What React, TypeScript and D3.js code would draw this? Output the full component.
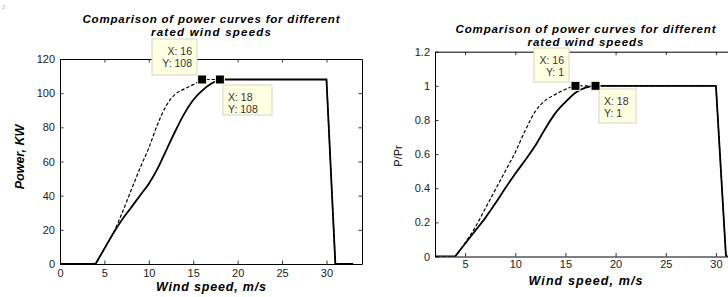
import { useEffect, useRef } from 'react';
import * as d3 from 'd3';

// wind speed grid, m/s
const windSpeeds = [0, 1, 2, 3, 4, 5, 6, 7, 8, 9, 10, 11, 12, 13, 14, 15, 16, 17, 18, 19, 20, 21, 22, 23, 24, 25, 26, 27, 28, 29, 30, 31, 32, 33];

// power, kW
const powerRated18 = [0, 0, 0, 0, 0, 9, 18, 26, 33, 40, 47, 56, 67, 78, 88, 96, 101.5, 105.5, 108, 108, 108, 108, 108, 108, 108, 108, 108, 108, 108, 108, 108, 0, 0, 0];
const powerRated16 = [0, 0, 0, 0, 0, 9, 18, 30, 43, 56, 68, 82, 93, 99.5, 102.5, 105, 108, 108, 108, 108, 108, 108, 108, 108, 108, 108, 108, 108, 108, 108, 108, 0, 0, 0];

// P/Pr
const ratioRated18 = [0, 0, 0, 0, 0, 0.075, 0.15, 0.225, 0.31, 0.4, 0.485, 0.565, 0.65, 0.75, 0.84, 0.905, 0.96, 0.99, 1, 1, 1, 1, 1, 1, 1, 1, 1, 1, 1, 1, 1, 0, 0, 0];
const ratioRated16 = [0, 0, 0, 0, 0, 0.08, 0.17, 0.28, 0.39, 0.5, 0.61, 0.74, 0.85, 0.915, 0.95, 0.98, 1, 1, 1, 1, 1, 1, 1, 1, 1, 1, 1, 1, 1, 1, 1, 0, 0, 0];

const powerTicks = [0, 20, 40, 60, 80, 100, 120];
const ratioTicks = [0, 0.2, 0.4, 0.6, 0.8, 1, 1.2];
const leftSpeedTicks = [0, 5, 10, 15, 20, 25, 30];
const rightSpeedTicks = [5, 10, 15, 20, 25, 30];

const cutInSpeed = 4;
const tipSpeeds = [16, 18];
const powerTipValues = [108, 108];
const ratioTipValues = [1, 1];

const titleLines = ['Comparison of power curves for different', 'rated wind speeds'];

const WIDTH = 728;
const HEIGHT = 297;
const FONT = '"Liberation Sans", Arial, Helvetica, sans-serif';

type TipBox = { x: number; y: number; w: number; h: number; anchor: 'start' | 'end' };

type Panel = {
  box: { left: number; right: number; top: number; bottom: number };
  xDomain: [number, number];
  yDomain: [number, number];
  xTicks: number[];
  yTicks: number[];
  solid: number[];
  dashed: number[];
  tipValues: number[];
  tips: TipBox[];
  titleY: [number, number];
  titleLength: [number, number];
  xTickPad: number;
  xLabelY: number;
  xLabelLength: number;
  yLabel: string;
  yLabelX: number;
  yLabelY: number;
  yLabelBold: boolean;
};

const panels: Panel[] = [
  {
    box: { left: 60, right: 362, top: 59, bottom: 264 },
    xDomain: [0, 34],
    yDomain: [0, 120],
    xTicks: leftSpeedTicks,
    yTicks: powerTicks,
    solid: powerRated18,
    dashed: powerRated16,
    tipValues: powerTipValues,
    tips: [
      { x: 152, y: 39, w: 45, h: 36, anchor: 'end' },
      { x: 223, y: 85, w: 49, h: 30, anchor: 'start' },
    ],
    titleY: [23, 36],
    titleLength: [257, 120],
    xTickPad: 5.5,
    xLabelY: 291,
    xLabelLength: 110,
    yLabel: 'Power, KW',
    yLabelX: 23.5,
    yLabelY: 157,
    yLabelBold: true,
  },
  {
    box: { left: 435, right: 736, top: 51.7, bottom: 256.5 },
    xDomain: [2, 32],
    yDomain: [0, 1.2],
    xTicks: rightSpeedTicks,
    yTicks: ratioTicks,
    solid: ratioRated18,
    dashed: ratioRated16,
    tipValues: ratioTipValues,
    tips: [
      { x: 534, y: 48, w: 35, h: 34, anchor: 'end' },
      { x: 599, y: 89, w: 37, h: 34, anchor: 'start' },
    ],
    titleY: [33, 46],
    titleLength: [260, 116],
    xTickPad: 3.8,
    xLabelY: 284.5,
    xLabelLength: 114,
    yLabel: 'P/Pr',
    yLabelX: 402,
    yLabelY: 156,
    yLabelBold: false,
  },
];

const drawPanel = (svg: d3.Selection<SVGSVGElement, unknown, null, undefined>, p: Panel, idx: number) => {
  const { box } = p;
  const x = d3.scaleLinear().domain(p.xDomain).range([box.left, box.right]);
  const y = d3.scaleLinear().domain(p.yDomain).range([box.bottom, box.top]);
  const tick = 3.5;
  const g = svg.append('g');

  const clipId = `plot-clip-${idx}`;
  g.append('clipPath')
    .attr('id', clipId)
    .append('rect')
    .attr('x', box.left)
    .attr('y', box.top - 6)
    .attr('width', box.right - box.left)
    .attr('height', box.bottom - box.top + 6);

  // axes, ticks pointing inward on all four sides
  const bottom = g
    .append('g')
    .attr('transform', `translate(0,${box.bottom})`)
    .call(d3.axisBottom(x).tickValues(p.xTicks).tickSize(-tick).tickSizeOuter(0).tickPadding(p.xTickPad).tickFormat((d) => String(d)));
  const left = g
    .append('g')
    .attr('transform', `translate(${box.left},0)`)
    .call(d3.axisLeft(y).tickValues(p.yTicks).tickSize(-tick).tickSizeOuter(0).tickPadding(5).tickFormat((d) => String(d)));
  const top = g
    .append('g')
    .attr('transform', `translate(0,${box.top})`)
    .call(d3.axisTop(x).tickValues(p.xTicks).tickSize(-tick).tickSizeOuter(0).tickFormat(() => ''));
  const right = g
    .append('g')
    .attr('transform', `translate(${box.right},0)`)
    .call(d3.axisRight(y).tickValues(p.yTicks).tickSize(-tick).tickSizeOuter(0).tickFormat(() => ''));

  [bottom, left, top, right].forEach((a) => {
    a.select('.domain').attr('stroke', '#000').attr('stroke-width', 1);
    a.selectAll('.tick line').attr('stroke', '#000').attr('stroke-width', 0.8);
    a.selectAll('.tick text').attr('fill', '#222').attr('font-size', 11).attr('font-family', FONT);
  });

  // curves: straight before cut-in and after rated speed, smooth in between
  type Pt = [number, number];
  const linear = d3.line<Pt>().x((d) => x(d[0])).y((d) => y(d[1]));
  const smooth = d3.line<Pt>().x((d) => x(d[0])).y((d) => y(d[1])).curve(d3.curveMonotoneX);
  const curvePath = (values: number[], rated: number) => {
    const pts: Pt[] = windSpeeds.map((s, i) => [s, values[i]]);
    const a = pts.filter((d) => d[0] <= cutInSpeed);
    const b = pts.filter((d) => d[0] >= cutInSpeed && d[0] <= rated);
    const c = pts.filter((d) => d[0] >= rated);
    return (linear(a) ?? '') + (smooth(b) ?? '').replace(/^M/, 'L') + (linear(c) ?? '').replace(/^M/, 'L');
  };

  const plot = g.append('g').attr('clip-path', `url(#${clipId})`);
  plot
    .append('path')
    .attr('d', curvePath(p.dashed, tipSpeeds[0]))
    .attr('fill', 'none')
    .attr('stroke', '#000')
    .attr('stroke-width', 1.2)
    .attr('stroke-dasharray', '3.5 2');
  plot
    .append('path')
    .attr('d', curvePath(p.solid, tipSpeeds[1]))
    .attr('fill', 'none')
    .attr('stroke', '#000')
    .attr('stroke-width', 1.8);

  // data tips
  tipSpeeds.forEach((s, i) => {
    const tb = p.tips[i];
    g.append('rect')
      .attr('x', tb.x)
      .attr('y', tb.y)
      .attr('width', tb.w)
      .attr('height', tb.h)
      .attr('fill', '#ffffe1')
      .attr('stroke', '#d6d6c4')
      .attr('stroke-width', 1);
    const tx = tb.anchor === 'end' ? tb.x + tb.w - 5 : tb.x + 5;
    [`X: ${s}`, `Y: ${p.tipValues[i]}`].forEach((t, j) => {
      g.append('text')
        .attr('x', tx)
        .attr('y', tb.y + 16 + j * 12)
        .attr('text-anchor', tb.anchor)
        .attr('font-family', FONT)
        .attr('font-size', 10.5)
        .attr('fill', '#333')
        .text(t);
    });
    g.append('rect')
      .attr('x', x(s) - 4.5)
      .attr('y', y(p.tipValues[i]) - 4.5)
      .attr('width', 9)
      .attr('height', 9)
      .attr('fill', '#000')
      .attr('stroke', '#ffffe1')
      .attr('stroke-width', 1);
  });

  // title and labels
  const cx = (box.left + box.right) / 2;
  titleLines.forEach((t, j) => {
    g.append('text')
      .attr('x', cx)
      .attr('y', p.titleY[j])
      .attr('text-anchor', 'middle')
      .attr('font-family', FONT)
      .attr('font-size', 11.5)
      .attr('font-weight', 'bold')
      .attr('font-style', 'italic')
      .attr('textLength', p.titleLength[j])
      .attr('lengthAdjust', 'spacing')
      .attr('fill', '#000')
      .text(t);
  });

  g.append('text')
    .attr('x', cx)
    .attr('y', p.xLabelY)
    .attr('text-anchor', 'middle')
    .attr('font-family', FONT)
    .attr('font-size', 12.5)
    .attr('font-weight', 'bold')
    .attr('font-style', 'italic')
    .attr('textLength', p.xLabelLength)
    .attr('lengthAdjust', 'spacing')
    .attr('fill', '#000')
    .text('Wind speed, m/s');

  g.append('text')
    .attr('transform', `translate(${p.yLabelX},${p.yLabelY}) rotate(-90)`)
    .attr('text-anchor', 'middle')
    .attr('font-family', FONT)
    .attr('font-size', p.yLabelBold ? 12.5 : 11)
    .attr('font-weight', p.yLabelBold ? 'bold' : 'normal')
    .attr('font-style', p.yLabelBold ? 'italic' : 'normal')
    .attr('fill', '#000')
    .text(p.yLabel);
};

const App = () => {
  const ref = useRef<SVGSVGElement | null>(null);

  useEffect(() => {
    if (!ref.current) return;
    const svg = d3.select(ref.current);
    svg.selectAll('*').remove();

    svg.append('rect').attr('width', WIDTH).attr('height', HEIGHT).attr('fill', '#fff');
    svg.append('text').attr('x', 2).attr('y', 9).attr('font-size', 6).attr('font-family', FONT).attr('fill', '#aaa').text('J');

    panels.forEach((p, i) => drawPanel(svg, p, i));
  }, []);

  return (
    <svg
      ref={ref}
      width={WIDTH}
      height={HEIGHT}
      style={{ position: 'absolute', left: 0, top: 0, display: 'block' }}
      role="img"
      aria-label="Comparison of power curves for different rated wind speeds"
    />
  );
};

export default App;
